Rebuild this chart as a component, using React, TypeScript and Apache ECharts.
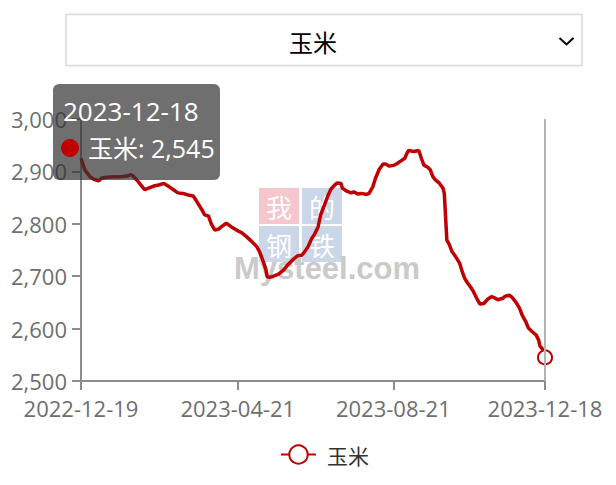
import React, { useEffect, useRef } from 'react';
import * as echarts from 'echarts';

const seriesName = '玉米';

const dates = [
  '2022-12-19', '2022-12-22', '2022-12-26', '2022-12-29', '2023-01-02', '2023-01-04', '2023-01-08', '2023-01-14', '2023-01-19', '2023-01-24',
  '2023-01-27', '2023-01-29', '2023-02-02', '2023-02-05', '2023-02-07', '2023-02-10', '2023-02-14', '2023-02-18', '2023-02-22', '2023-02-26',
  '2023-03-01', '2023-03-05', '2023-03-09', '2023-03-13', '2023-03-17', '2023-03-20', '2023-03-24', '2023-03-26', '2023-03-29', '2023-03-31',
  '2023-04-03', '2023-04-06', '2023-04-08', '2023-04-12', '2023-04-16', '2023-04-20', '2023-04-24', '2023-04-28', '2023-05-02', '2023-05-06',
  '2023-05-08', '2023-05-11', '2023-05-13', '2023-05-14', '2023-05-16', '2023-05-19', '2023-05-23', '2023-05-27', '2023-05-30', '2023-06-03',
  '2023-06-07', '2023-06-10', '2023-06-12', '2023-06-15', '2023-06-18', '2023-06-20', '2023-06-23', '2023-06-25', '2023-06-28', '2023-07-01',
  '2023-07-03', '2023-07-06', '2023-07-08', '2023-07-11', '2023-07-12', '2023-07-15', '2023-07-19', '2023-07-21', '2023-07-24', '2023-07-27',
  '2023-07-31', '2023-08-02', '2023-08-05', '2023-08-07', '2023-08-10', '2023-08-13', '2023-08-15', '2023-08-18', '2023-08-22', '2023-08-24',
  '2023-08-27', '2023-08-30', '2023-09-01', '2023-09-02', '2023-09-06', '2023-09-10', '2023-09-12', '2023-09-14', '2023-09-17', '2023-09-19',
  '2023-09-21', '2023-09-23', '2023-09-26', '2023-09-29', '2023-09-30', '2023-10-02', '2023-10-04', '2023-10-06', '2023-10-09', '2023-10-12',
  '2023-10-14', '2023-10-16', '2023-10-18', '2023-10-21', '2023-10-23', '2023-10-26', '2023-10-28', '2023-10-31', '2023-11-03', '2023-11-06',
  '2023-11-09', '2023-11-11', '2023-11-15', '2023-11-17', '2023-11-20', '2023-11-22', '2023-11-25', '2023-11-28', '2023-11-30', '2023-12-03',
  '2023-12-05', '2023-12-08', '2023-12-11', '2023-12-13', '2023-12-14', '2023-12-17', '2023-12-18',
];

const values = [
  2925, 2903, 2890, 2885, 2882, 2887, 2889, 2890, 2890, 2891,
  2894, 2891, 2880, 2871, 2865, 2868, 2872, 2874, 2877, 2871,
  2866, 2859, 2858, 2855, 2853, 2842, 2826, 2817, 2815, 2801,
  2788, 2790, 2794, 2801, 2794, 2788, 2783, 2775, 2766, 2756,
  2747, 2728, 2713, 2699, 2698, 2700, 2704, 2712, 2721, 2731,
  2739, 2740, 2745, 2756, 2772, 2779, 2794, 2817, 2836, 2855,
  2866, 2874, 2878, 2877, 2868, 2863, 2859, 2861, 2857, 2858,
  2856, 2858, 2871, 2887, 2904, 2914, 2914, 2910, 2912, 2915,
  2920, 2925, 2936, 2940, 2938, 2940, 2925, 2912, 2908, 2903,
  2890, 2884, 2878, 2868, 2858, 2769, 2760, 2747, 2737, 2725,
  2709, 2696, 2688, 2678, 2670, 2655, 2647, 2648, 2656, 2661,
  2658, 2655, 2658, 2662, 2664, 2660, 2651, 2639, 2626, 2613,
  2601, 2594, 2588, 2578, 2567, 2558, 2545,
];

const xTickDates = ['2022-12-19', '2023-04-21', '2023-08-21', '2023-12-18'];
const yMin = 2500;
const yMax = 3000;
const yStep = 100;

const watermarkChars = ['我', '的', '钢', '铁'];
const watermarkText = 'Mysteel.com';

const DAY = 86400000;
const toUTC = (s: string) => {
  const [y, m, d] = s.split('-').map(Number);
  return Date.UTC(y, m - 1, d);
};
const origin = toUTC(xTickDates[0]);
const dayOf = (s: string) => Math.round((toUTC(s) - origin) / DAY);
const pad = (n: number) => (n < 10 ? '0' + n : '' + n);
const dateOfDay = (n: number) => {
  const d = new Date(origin + Math.round(n) * DAY);
  return `${d.getUTCFullYear()}-${pad(d.getUTCMonth() + 1)}-${pad(d.getUTCDate())}`;
};

export default function App() {
  const ref = useRef<HTMLDivElement>(null);

  useEffect(() => {
    if (!ref.current) return;
    const chart = echarts.init(ref.current, null, { renderer: 'svg' });
    const data = dates.map((d, i) => [dayOf(d), values[i]]);
    const last = dates.length - 1;
    const red = '#c00000';
    const font = '"Open Sans", "Noto Sans CJK SC", sans-serif';
    const cjk = '"Noto Sans CJK SC", sans-serif';
    const fmt = (v: number) => v.toLocaleString('en-US');
    const tickVals = xTickDates.map(dayOf);
    const axisGray = '#8c8c8c';
    const labelGray = '#6e6e6e';

    const cellFills = ['#f5c6cb', '#cbd6e8', '#cbd6e8', '#cbd6e8'];
    const cellPos = [[251, 180], [294, 180], [251, 218], [294, 218]];

    chart.setOption({
      animation: false,
      textStyle: { fontFamily: font },
      grid: { left: 71, right: 63, top: 111, bottom: 96, containLabel: false },
      xAxis: {
        type: 'value',
        min: tickVals[0],
        max: tickVals[tickVals.length - 1],
        axisLine: { show: true, lineStyle: { color: axisGray, width: 2 } },
        axisTick: { show: true, length: 9, lineStyle: { color: axisGray, width: 2 }, customValues: tickVals },
        axisLabel: {
          customValues: tickVals,
          formatter: (v: number) => dateOfDay(v),
          color: labelGray,
          fontSize: 22,
          margin: 16,
          fontFamily: font,
        },
        splitLine: { show: false },
      },
      yAxis: {
        type: 'value',
        min: yMin,
        max: yMax,
        interval: yStep,
        axisLine: { show: true, lineStyle: { color: axisGray, width: 2 } },
        axisTick: { show: true, length: 9, lineStyle: { color: axisGray, width: 2 } },
        axisLabel: { formatter: (v: number) => fmt(v), color: labelGray, fontSize: 22, margin: 14, fontFamily: font },
        splitLine: { show: false },
      },
      legend: {
        left: 267,
        top: 431,
        itemWidth: 35,
        itemHeight: 23,
        data: [seriesName],
        textStyle: { fontSize: 21, color: '#333', fontFamily: cjk, padding: [0, 0, 0, 6] },
      },
      series: [
        {
          type: 'line',
          name: seriesName,
          data,
          symbol: 'emptyCircle',
          symbolSize: (_v: any, p: any) => (p.dataIndex === last ? 14 : 0),
          showSymbol: true,
          lineStyle: { color: red, width: 3.5 },
          itemStyle: { color: red, borderWidth: 2 },
          z: 2,
          markLine: {
            silent: true,
            symbol: ['none', 'none'],
            label: { show: false },
            lineStyle: { color: '#b3b3b3', width: 2, type: 'solid' },
            data: [{ xAxis: tickVals[tickVals.length - 1] }],
          },
        },
      ],
      graphic: [
        { type: 'rect', shape: { x: 58, y: 6.5, width: 516, height: 51 }, style: { fill: '#fff', stroke: '#d9d9de', lineWidth: 1.5 }, z: 10 },
        { type: 'text', x: 305, y: 33.5, style: { text: seriesName, fontSize: 24, fill: '#000', align: 'center', verticalAlign: 'middle', fontFamily: cjk }, z: 11 },
        { type: 'polyline', shape: { points: [[551.5, 30], [558.5, 36.5], [565.5, 30]] }, style: { stroke: '#000', lineWidth: 2, fill: 'none' }, z: 11 },
        ...watermarkChars.flatMap((ch, i) => [
          { type: 'rect', shape: { x: cellPos[i][0], y: cellPos[i][1], width: 40, height: 36 }, style: { fill: cellFills[i] }, z: 0 },
          { type: 'text', x: cellPos[i][0] + 20, y: cellPos[i][1] + 18, style: { text: ch, fontSize: 26, lineHeight: 26, fill: '#fff', align: 'center', verticalAlign: 'middle', fontFamily: cjk }, z: 0 },
        ]),
        { type: 'text', x: 226, y: 260, style: { text: watermarkText, fontSize: 31, lineHeight: 20, fontWeight: 'bold', fill: '#cacaca', verticalAlign: 'middle', fontFamily: '"Liberation Sans", Arial, sans-serif' }, z: 1 },
        { type: 'rect', shape: { x: 45, y: 76, width: 167, height: 96, r: 6 }, style: { fill: 'rgba(50,50,50,0.7)' }, z: 100 },
        { type: 'text', x: 55, y: 103, style: { text: dates[last], fontSize: 26, fill: '#fff', verticalAlign: 'middle', fontFamily: font }, z: 101 },
        { type: 'circle', shape: { cx: 62, cy: 140, r: 9 }, style: { fill: red }, z: 101 },
        { type: 'text', x: 80, y: 139.5, style: { text: `${seriesName}: ${fmt(values[last])}`, fontSize: 25, fill: '#fff', verticalAlign: 'middle', fontFamily: font }, z: 101 },
      ],
    });

    return () => chart.dispose();
  }, []);

  return <div ref={ref} style={{ width: 600, height: 469 }} />;
}
